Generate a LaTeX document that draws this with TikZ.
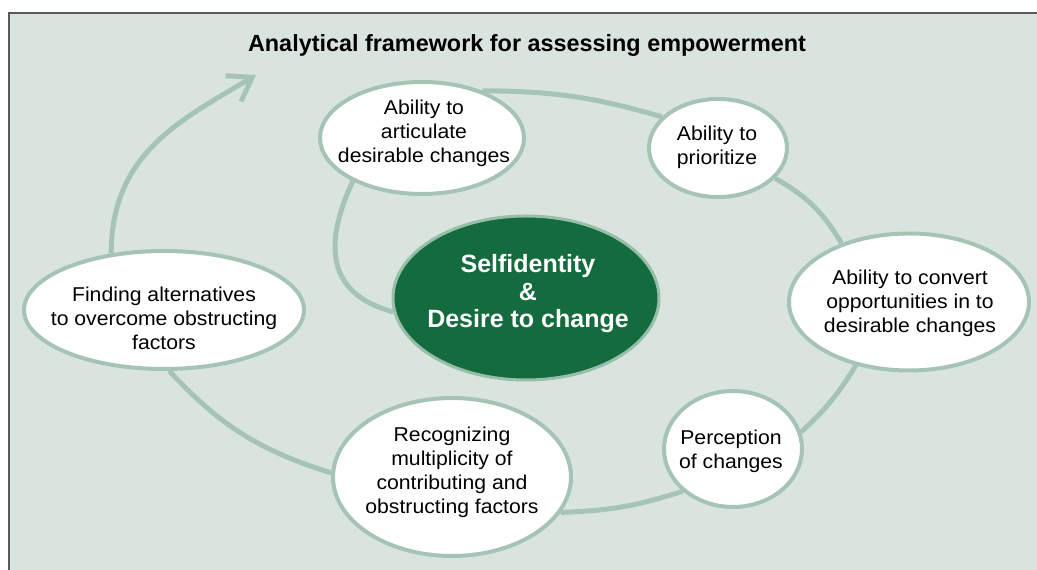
\documentclass[tikz,border=0pt]{standalone}
\usepackage{fontspec}
\setmainfont{Liberation Sans}
\newfontfamily\bubfont{Liberation Sans}[FakeStretch=1.06]
\usetikzlibrary{shapes.geometric,arrows.meta,backgrounds}
\definecolor{panel}{RGB}{218,228,223}
\definecolor{ring}{RGB}{166,196,182}
\definecolor{core}{RGB}{20,107,62}
\definecolor{corering}{RGB}{150,190,168}

\begin{document}
\begin{tikzpicture}[x=1pt,y=1pt,
  bub/.style={ellipse,draw=ring,line width=4pt,fill=white,inner sep=0pt},
  bubtxt/.style={align=center,inner sep=0pt,font=\bubfont\fontsize{20}{24}\selectfont},
  link/.style={draw=ring,line width=5pt}]
\useasboundingbox (0,0) rectangle (1037,570);
\node[font=\bfseries\fontsize{23.4}{28}\selectfont,anchor=base] (title) at (527,518) {Analytical framework for assessing empowerment};
\node[bub,minimum width=204pt,minimum height=112pt] (artic) at (422,432) {};
\node[bub,minimum width=138pt,minimum height=98pt] (prior) at (718,422) {};
\node[ellipse,fill=core,draw=corering,line width=3pt,inner sep=0pt,minimum width=266pt,minimum height=164pt] (self) at (526,272) {};
\node[bub,minimum width=240pt,minimum height=137pt] (conv) at (909,268) {};
\node[bub,minimum width=138pt,minimum height=116pt] (perc) at (733,121) {};
\node[bub,minimum width=238pt,minimum height=158pt] (recog) at (452,93) {};
\node[bub,minimum width=280pt,minimum height=118pt] (find) at (164,260) {};
\coordinate (tip) at (256,495);
\node[bubtxt] (artic-t) at (424,437) {Ability to\\articulate\\desirable changes};
\node[bubtxt] (prior-t) at (717,423) {Ability to\\prioritize};
\node[bubtxt] (conv-t) at (910,267) {Ability to convert\\opportunities in to\\desirable changes};
\node[bubtxt] (perc-t) at (731,119) {Perception\\of changes};
\node[bubtxt] (recog-t) at (452,98) {Recognizing\\multiplicity of\\contributing and\\obstructing factors};
\node[bubtxt] (find-t) at (164,252) {Finding alternatives\\to overcome obstructing\\factors};
\node[align=center,inner sep=0pt,text=white,font=\bfseries\fontsize{25}{27.5}\selectfont] (self-t) at (528,276) {Selfidentity\\\&\\Desire to change};
\begin{scope}[on background layer]
\fill[white] (0,0) rectangle (1037,570);
\fill[panel] (9,0) rectangle (1037,557);
\draw[gray!70!black,line width=1.2pt] (9,0) -- (9,557) -- (1037,557);
\draw[link] (artic.38) to[bend left=8] (prior.151);
\draw[link] (prior.-28) to[bend left=15] (conv.139);
\draw[link] (conv.230) to[bend left=8] (perc.14);
\draw[link] (perc.220) to[bend left=8] (recog.-18);
\draw[link] (recog.178) to[bend left=15] (find.275);
\draw[link] (artic.212) to[out=245,in=165,looseness=1.3] (self.186);
\draw[link,-{Straight Barb[length=22pt,width=30pt]}] (find.133) .. controls +(0,100) and +(-75,-45) .. (tip);
\end{scope}
\end{tikzpicture}
\end{document}
